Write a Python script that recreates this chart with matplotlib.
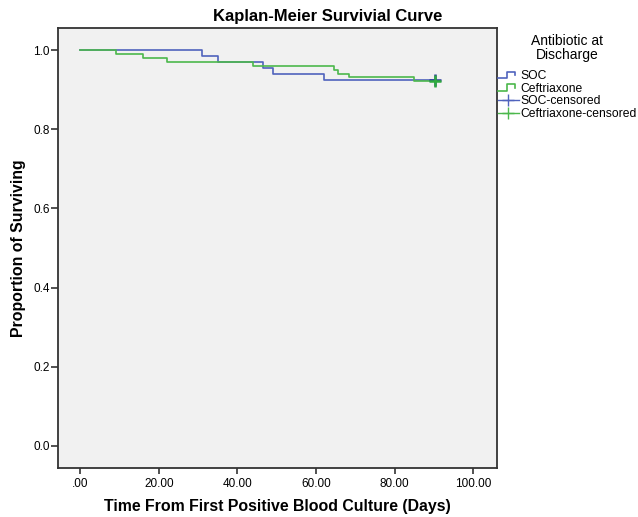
import matplotlib
matplotlib.use("Agg")
import matplotlib.pyplot as plt
from matplotlib.lines import Line2D
from matplotlib.legend_handler import HandlerBase

plt.rcParams['font.family'] = ['Liberation Sans', 'DejaVu Sans']

# Kaplan-Meier step data
soc_days = [0, 31, 35, 46.5, 49, 62, 90.2]
soc_surv = [1.0, 0.986, 0.969, 0.955, 0.941, 0.924, 0.924]
cef_days = [0, 9, 16, 22, 44, 64.5, 65.5, 68.5, 85, 90.2]
cef_surv = [1.0, 0.991, 0.981, 0.970, 0.960, 0.949, 0.941, 0.931, 0.921, 0.921]

soc_cens_days = [90.2]
soc_cens_surv = [0.924]
cef_cens_days = [90.2]
cef_cens_surv = [0.921]

x_ticks = [0, 20, 40, 60, 80, 100]
x_labels = [".00", "20.00", "40.00", "60.00", "80.00", "100.00"]
y_ticks = [0.0, 0.2, 0.4, 0.6, 0.8, 1.0]

blue = '#5063bd'
green = '#4cb84c'


class StepHandler(HandlerBase):
    # little step-shaped icon like SPSS draws in the legend
    def create_artists(self, legend, orig, xd, yd, w, h, fs, trans):
        x0, y0 = -xd, -yd
        xs = [x0, x0 + 0.45 * w, x0 + 0.45 * w, x0 + 0.85 * w, x0 + 0.85 * w]
        ys = [y0 + 0.1 * h, y0 + 0.1 * h, y0 + 0.85 * h, y0 + 0.85 * h, y0 + 0.45 * h]
        ln = Line2D(xs, ys, color=orig.get_color(), lw=orig.get_linewidth())
        ln.set_transform(trans)
        return [ln]


fig = plt.figure(figsize=(6.38, 5.17), dpi=100)
ax = fig.add_axes([58 / 638, 1 - 468 / 517, (497 - 58) / 638, (468 - 28) / 517])
ax.set_facecolor('#f1f1f1')

ax.step(soc_days, soc_surv, where='post', color=blue, lw=1.2)
ax.step(cef_days, cef_surv, where='post', color=green, lw=1.2)
ax.plot(soc_cens_days, soc_cens_surv, '+', color='#2a3a9a', ms=8, mew=1.8)
ax.plot(cef_cens_days, cef_cens_surv, '+', color='#2eaa3e', ms=8, mew=1.8)

ax.set_xlim(-5.7, 106.1)
ax.set_ylim(-0.056, 1.056)
ax.set_xticks(x_ticks)
ax.set_xticklabels(x_labels)
ax.set_yticks(y_ticks)
ax.set_yticklabels([f"{v:.1f}" for v in y_ticks])

for s in ax.spines.values():
    s.set_color('#333333')
    s.set_linewidth(1.3)
ax.tick_params(axis='x', length=4, width=1.2, color='#333333', labelsize=8.5, pad=3)
ax.tick_params(axis='y', length=5, width=1.2, color='#333333', labelsize=8.5, pad=1)

ax.set_xlabel("Time From First Positive Blood Culture (Days)", fontsize=11.4,
              fontweight='bold', labelpad=7)
ax.set_ylabel("Proportion of Surviving", fontsize=11.4, fontweight='bold', labelpad=5)

fig.text(328 / 638, 1 - 16.5 / 517, "Kaplan-Meier Survivial Curve", fontsize=12,
         fontweight='bold', ha='center', va='center')

h_soc = Line2D([], [], color=blue, lw=1.2)
h_cef = Line2D([], [], color=green, lw=1.2)
h_soc_c = Line2D([], [], color=blue, lw=1.0, marker='+', ms=9, mew=1.0)
h_cef_c = Line2D([], [], color=green, lw=1.0, marker='+', ms=9, mew=1.0)

fig.text(567 / 638, 1 - 48 / 517, "Antibiotic at\nDischarge", fontsize=10,
         ha='center', va='center', linespacing=1.05)
fig.legend([h_soc, h_cef, h_soc_c, h_cef_c],
           ["SOC", "Ceftriaxone", "SOC-censored", "Ceftriaxone-censored"],
           handler_map={h_soc: StepHandler(), h_cef: StepHandler()},
           loc='upper left', bbox_to_anchor=(498 / 638, 1 - 70 / 517),
           frameon=False, fontsize=8.7, handlelength=1.7, handletextpad=0.15,
           labelspacing=0.05, borderpad=0, borderaxespad=0, numpoints=1)

fig.savefig("out.png", dpi=100, facecolor='white')
